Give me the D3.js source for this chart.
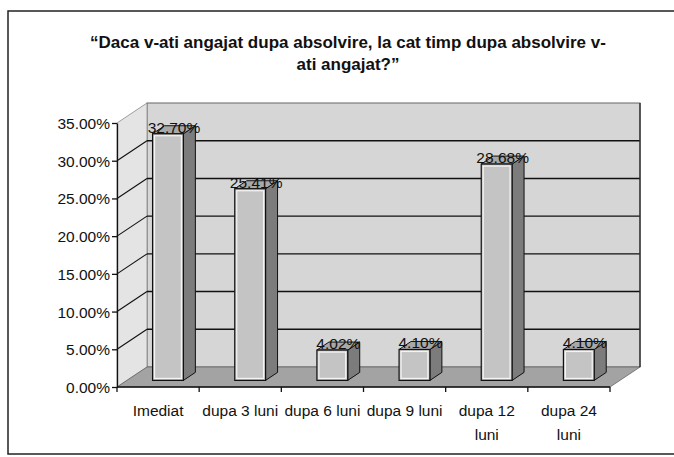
<!DOCTYPE html>
<html><head><meta charset="utf-8">
<script src="https://cdn.jsdelivr.net/npm/d3@7"></script>
<style>
html,body{margin:0;padding:0;background:#fff;}
svg{display:block;}
text{font-family:"Liberation Sans",Arial,sans-serif;fill:#111;}
</style></head>
<body>
<svg id="c" width="674" height="457"></svg>
<script>
const titleLines = ["\u201cDaca v-ati angajat dupa absolvire, la cat timp dupa absolvire v-", "ati angajat?\u201d"];
const categories = ["Imediat", "dupa 3 luni", "dupa 6 luni", "dupa 9 luni", "dupa 12 luni", "dupa 24 luni"];
const categoryLabelLines = [["Imediat"], ["dupa 3 luni"], ["dupa 6 luni"], ["dupa 9 luni"], ["dupa 12", "luni"], ["dupa 24", "luni"]];
const values = [32.70, 25.41, 4.02, 4.10, 28.68, 4.10];
const valueLabels = ["32.70%", "25.41%", "4.02%", "4.10%", "28.68%", "4.10%"];
const yTicks = [0, 5, 10, 15, 20, 25, 30, 35];

const svg = d3.select("#c");
// outer frame
svg.append("rect").attr("x", 8).attr("y", 11).attr("width", 700).attr("height", 443)
  .attr("fill", "#fff").attr("stroke", "#222").attr("stroke-width", 1.5);

// title
svg.append("g").selectAll("text").data(titleLines).join("text")
  .attr("x", 348).attr("y", (d, i) => 48 + i * 22)
  .attr("text-anchor", "middle").style("font-weight", "bold").style("font-size", "17px")
  .text(d => d);

const x0 = 117, x1 = 610;
const DX = 30, DY = -20;
const x = d3.scaleBand().domain(categories).range([x0, x1]);
const y = d3.scaleLinear().domain([0, 35]).range([387, 123]);
const yTop = y(35), yBot = y(0);

const g = svg.append("g");
// back wall
g.append("rect").attr("x", x0 + DX).attr("y", yTop + DY).attr("width", x1 - x0).attr("height", yBot - yTop)
  .attr("fill", "#d6d6d6").attr("stroke", "#666").attr("stroke-width", 1);
// left wall
g.append("path").attr("d", `M${x0},${yBot}L${x0},${yTop}L${x0 + DX},${yTop + DY}L${x0 + DX},${yBot + DY}Z`)
  .attr("fill", "#e4e4e4").attr("stroke", "#888").attr("stroke-width", 0.8);
// floor
g.append("path").attr("d", `M${x0},${yBot}L${x1},${yBot}L${x1 + DX},${yBot + DY}L${x0 + DX},${yBot + DY}Z`)
  .attr("fill", "#a3a3a3").attr("stroke", "#666").attr("stroke-width", 0.8);

// gridlines
const gridV = yTicks.filter(v => v > 0 && v < 35);
g.selectAll(".gb").data(gridV).join("line")
  .attr("x1", x0 + DX).attr("x2", x1 + DX).attr("y1", d => y(d) + DY).attr("y2", d => y(d) + DY)
  .attr("stroke", "#111").attr("stroke-width", 1.4);
g.selectAll(".gl").data(gridV).join("line")
  .attr("x1", x0).attr("x2", x0 + DX).attr("y1", d => y(d)).attr("y2", d => y(d) + DY)
  .attr("stroke", "#111").attr("stroke-width", 1.1);
// right edge of back wall
g.append("line").attr("x1", x1 + DX).attr("x2", x1 + DX).attr("y1", yTop + DY).attr("y2", yBot + DY)
  .attr("stroke", "#333").attr("stroke-width", 1.4);

// bars
const bw = x.bandwidth() * 0.375;
const fz = 0.33, dz = 0.4;
const ox = DX * fz, oy = DY * fz;
const bdx = DX * dz, bdy = DY * dz;
const bars = g.selectAll(".bar").data(values).join("g");
bars.each(function (v, i) {
  const gg = d3.select(this);
  const cx = x(categories[i]) + x.bandwidth() / 2 + ox;
  const L = cx - bw / 2, R = cx + bw / 2;
  const T = y(v) + oy, B = y(0) + oy;
  gg.append("path").attr("d", `M${R},${B}L${R},${T}L${R + bdx},${T + bdy}L${R + bdx},${B + bdy}Z`)
    .attr("fill", "#7c7c7c").attr("stroke", "#111").attr("stroke-width", 1);
  gg.append("path").attr("d", `M${L},${T}L${R},${T}L${R + bdx},${T + bdy}L${L + bdx},${T + bdy}Z`)
    .attr("fill", "#a8a8a8").attr("stroke", "#111").attr("stroke-width", 1);
  gg.append("rect").attr("x", L).attr("y", T).attr("width", bw).attr("height", B - T)
    .attr("fill", "#c4c4c4").attr("stroke", "#111").attr("stroke-width", 1.2);
  gg.append("rect").attr("x", L + 2).attr("y", T + 2).attr("width", bw - 4).attr("height", B - T - 4)
    .attr("fill", "none").attr("stroke", "#f4f4f4").attr("stroke-width", 1.2);
  gg.append("text").attr("x", cx + bdx / 2).attr("y", T - 1).attr("text-anchor", "middle")
    .style("font-size", "15.5px").text(valueLabels[i]);
});

// y axis
const yAxis = d3.axisLeft(y).tickValues(yTicks).tickFormat(d => d.toFixed(2) + "%").tickSize(5).tickSizeOuter(0);
const ya = svg.append("g").attr("transform", `translate(${x0},0)`).call(yAxis);
ya.select(".domain").attr("stroke", "#111").attr("stroke-width", 1.3);
ya.selectAll(".tick line").attr("stroke", "#111").attr("stroke-width", 1.3);
ya.selectAll(".tick text").attr("x", -7).attr("dy", "0.35em").style("font-size", "15.5px").style("font-family", "'Liberation Sans',Arial,sans-serif").attr("fill", "#111");

// x axis: base line + boundary ticks
const xa = svg.append("g");
xa.append("line").attr("x1", x0).attr("x2", x1).attr("y1", yBot).attr("y2", yBot).attr("stroke", "#111").attr("stroke-width", 1.3);
const bounds = categories.map(c => x(c)).concat([x1]);
xa.selectAll(".xt").data(bounds).join("line")
  .attr("x1", d => d).attr("x2", d => d).attr("y1", yBot).attr("y2", yBot + 5)
  .attr("stroke", "#111").attr("stroke-width", 1.3);
xa.selectAll(".xl").data(categories).join("text")
  .attr("text-anchor", "middle").style("font-size", "15.5px")
  .attr("transform", d => `translate(${x(d) + x.bandwidth() / 2},${yBot + 29})`)
  .each(function (d, i) {
    d3.select(this).selectAll("tspan").data(categoryLabelLines[i]).join("tspan")
      .attr("x", 0).attr("dy", (t, j) => j === 0 ? 0 : 24).text(t => t);
  });
</script>
</body></html>
